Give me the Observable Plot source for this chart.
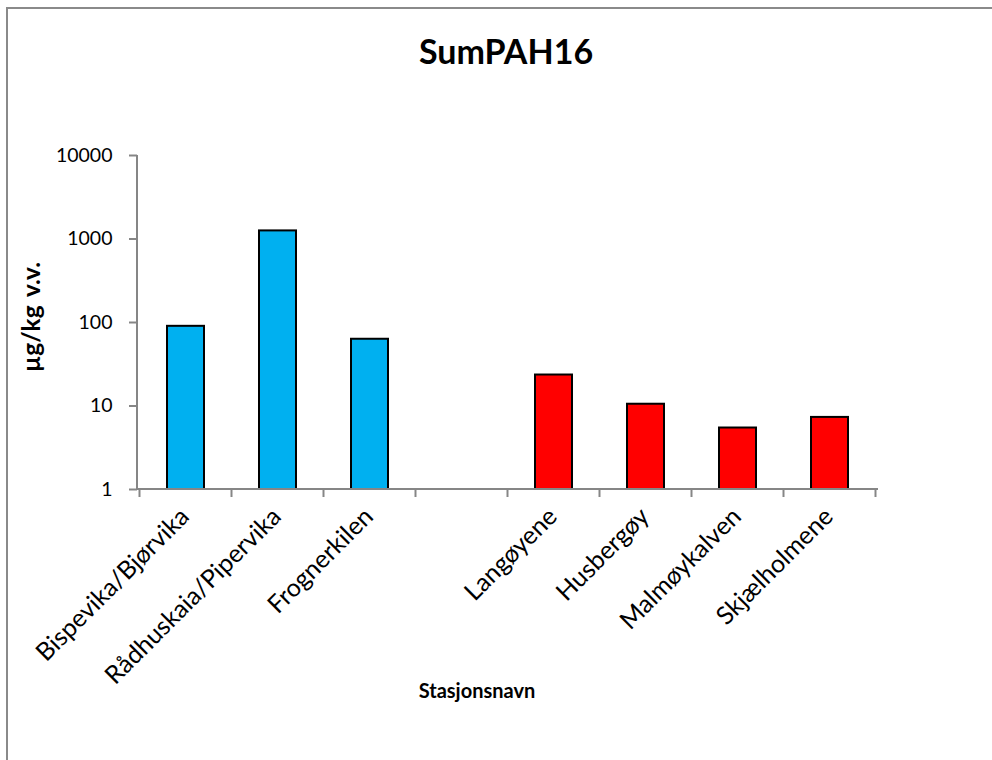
<!DOCTYPE html>
<html>
<head>
<meta charset="utf-8">
<script src="https://cdn.jsdelivr.net/npm/d3@7"></script>
<script src="https://cdn.jsdelivr.net/npm/@observablehq/plot@0.6"></script>
<style>
  html, body { margin: 0; padding: 0; background: #fff; overflow: hidden; }
  #wrap { position: relative; width: 992px; height: 760px; overflow: hidden; font-family: Lato, "Open Sans", sans-serif; }
  #bleft { position: absolute; left: 6px; top: 7px; width: 2px; height: 760px; background: #8a8a8a; }
  #btop { position: absolute; left: 6px; top: 7px; width: 986px; height: 2px; background: #8a8a8a; }
  #title { position: absolute; left: 0; width: 1012px; top: 31px; text-align: center; font-weight: bold; font-size: 34px; line-height: 40px; }
  #ylabel { position: absolute; left: 30px; top: 317px; transform: translate(-50%, -50%) rotate(-90deg); font-weight: bold; font-size: 24.5px; word-spacing: 3px; white-space: nowrap; }
  #xlabel { position: absolute; left: 477px; top: 690px; transform: translate(-50%, -50%); font-weight: bold; font-size: 20px; white-space: nowrap; }
  #chart { position: absolute; left: 0; top: 0; }
</style>
</head>
<body>
<div id="wrap">
  <div id="bleft"></div>
  <div id="btop"></div>
  <div id="chart"></div>
  <div id="title">SumPAH16</div>
  <div id="ylabel">µg/kg v.v.</div>
  <div id="xlabel">Stasjonsnavn</div>
</div>
<script>
// Data
const categories = ["Bispevika/Bjørvika", "Rådhuskaia/Pipervika", "Frognerkilen", " ", "Langøyene", "Husbergøy", "Malmøykalven", "Skjælholmene"];
const stations = ["Bispevika/Bjørvika", "Rådhuskaia/Pipervika", "Frognerkilen", "Langøyene", "Husbergøy", "Malmøykalven", "Skjælholmene"];
const values = [90, 1250, 63, 23.5, 10.5, 5.45, 7.3];
const groups = ["indre", "indre", "indre", "ytre", "ytre", "ytre", "ytre"];
const yTicks = [1, 10, 100, 1000, 10000];
const yDomain = [1, 10000];

const data = stations.map((s, i) => ({station: s, value: values[i], group: groups[i]}));

const axisColor = "#868686";

// custom mark: axis lines and category boundary ticks, from the scales
function axisLines(index, scales, vals, dims) {
  const s = (scales && scales.x) ? scales : index;
  const d = dims && dims.width ? dims : vals;
  const x = s.x, y = s.y;
  const step = x.step(), bw = x.bandwidth();
  const left = d.marginLeft, right = d.width - d.marginRight;
  const y0 = y(yDomain[0]), yTop = y(yDomain[1]);
  const g = d3.create("svg:g").attr("stroke", axisColor).attr("stroke-width", 2).attr("fill", "none");
  g.append("line").attr("x1", left).attr("x2", left).attr("y1", yTop).attr("y2", y0);
  g.append("line").attr("x1", left).attr("x2", right).attr("y1", y0).attr("y2", y0);
  const bounds = x.domain().map(c => x(c) + bw / 2 - step / 2);
  bounds.push(bounds[bounds.length - 1] + step);
  for (const b of bounds) {
    g.append("line").attr("x1", b).attr("x2", b).attr("y1", y0).attr("y2", y0 + 8);
  }
  return g.node();
}

const chart = Plot.plot({
  width: 992,
  height: 760,
  marginTop: 155,
  marginBottom: 271,
  marginLeft: 137,
  marginRight: 114,
  style: {fontFamily: "Lato, 'Open Sans', sans-serif", background: "transparent", overflow: "visible"},
  x: {type: "band", domain: categories, paddingInner: 0.6, paddingOuter: 0.3, axis: null},
  y: {type: "log", domain: yDomain, axis: null},
  color: {domain: ["indre", "ytre"], range: ["#00b0f0", "#ff0000"]},
  marks: [
    Plot.barY(data, {x: "station", y1: yDomain[0], y2: "value", fill: "group", stroke: "#000", strokeWidth: 2}),
    Plot.axisY({ticks: yTicks, tickFormat: d => String(d), tickSize: 8, tickPadding: 17, stroke: axisColor, strokeWidth: 2, fill: "#000", fontSize: 19.5, label: null}),
    Plot.text(categories, {x: d => d, text: d => d.trim(), frameAnchor: "bottom", rotate: -45, textAnchor: "end", lineAnchor: "middle", dx: -1, dy: 23, fontSize: 25, fill: "#000"}),
    axisLines
  ]
});
document.getElementById("chart").appendChild(chart);
</script>
</body>
</html>
